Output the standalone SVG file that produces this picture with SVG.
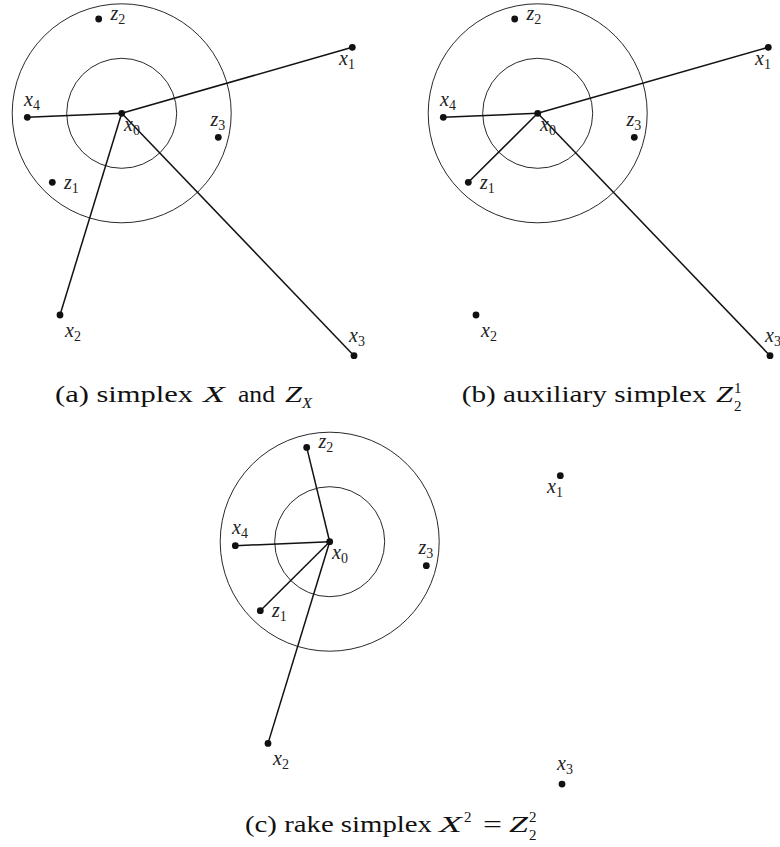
<svg xmlns="http://www.w3.org/2000/svg" width="780" height="847" viewBox="0 0 780 847">
<style>
.bg{fill:#fff}
.ring{fill:none;stroke:#111;stroke-width:0.9}
.edge{stroke:#111;stroke-width:1.5;fill:none}
.dot{fill:#111}
.lbl{font-family:"Liberation Serif",serif;font-style:italic;font-size:20px;fill:#222}
.sub{font-size:14px;font-style:normal}
.cap{font-family:"Liberation Serif",serif;font-size:24px;fill:#111}
.it{font-style:italic}
.sc{font-size:14px}
.ss{font-size:15px}
</style>
<rect class="bg" x="0" y="0" width="780" height="847"/>

<!-- Panel (a) -->
<g id="panel-a">
  <g id="a-rings">
    <circle class="ring" cx="121.7" cy="113.3" r="109.5"/>
    <circle class="ring" cx="121.7" cy="113.3" r="55"/>
  </g>
  <g id="a-connectors">
    <line class="edge" x1="121.7" y1="113.3" x2="352.3" y2="47.3"/>
    <line class="edge" x1="121.7" y1="113.3" x2="27.3" y2="117.3"/>
    <line class="edge" x1="121.7" y1="113.3" x2="60" y2="315"/>
    <line class="edge" x1="121.7" y1="113.3" x2="354" y2="355.7"/>
  </g>
  <g id="a-x0"><circle class="dot" cx="121.7" cy="113.3" r="3.4"/><text class="lbl" x="124" y="131">x<tspan class="sub" dy="4">0</tspan></text></g>
  <g id="a-x1"><circle class="dot" cx="352.3" cy="47.3" r="3.4"/><text class="lbl" x="339" y="65">x<tspan class="sub" dy="4">1</tspan></text></g>
  <g id="a-x2"><circle class="dot" cx="60" cy="315" r="3.4"/><text class="lbl" x="65" y="337">x<tspan class="sub" dy="4">2</tspan></text></g>
  <g id="a-x3"><circle class="dot" cx="354" cy="355.7" r="3.4"/><text class="lbl" x="349" y="342">x<tspan class="sub" dy="4">3</tspan></text></g>
  <g id="a-x4"><circle class="dot" cx="27.3" cy="117.3" r="3.4"/><text class="lbl" x="24" y="106">x<tspan class="sub" dy="4">4</tspan></text></g>
  <g id="a-z1"><circle class="dot" cx="52.3" cy="182.3" r="3.4"/><text class="lbl" x="64" y="189">z<tspan class="sub" dy="4">1</tspan></text></g>
  <g id="a-z2"><circle class="dot" cx="98.7" cy="19" r="3.4"/><text class="lbl" x="110.5" y="20">z<tspan class="sub" dy="4">2</tspan></text></g>
  <g id="a-z3"><circle class="dot" cx="218.3" cy="137.3" r="3.4"/><text class="lbl" x="210.5" y="126">z<tspan class="sub" dy="4">3</tspan></text></g>
</g>

<!-- Panel (b) -->
<g id="panel-b">
  <g id="b-rings">
    <circle class="ring" cx="537.7" cy="113.3" r="109.5"/>
    <circle class="ring" cx="537.7" cy="113.3" r="55"/>
  </g>
  <g id="b-connectors">
    <line class="edge" x1="537.7" y1="113.3" x2="768.3" y2="47.3"/>
    <line class="edge" x1="537.7" y1="113.3" x2="443.3" y2="117.3"/>
    <line class="edge" x1="537.7" y1="113.3" x2="770" y2="355.7"/>
    <line class="edge" x1="537.7" y1="113.3" x2="468.3" y2="182.3"/>
  </g>
  <g id="b-x0"><circle class="dot" cx="537.7" cy="113.3" r="3.4"/><text class="lbl" x="540" y="131">x<tspan class="sub" dy="4">0</tspan></text></g>
  <g id="b-x1"><circle class="dot" cx="768.3" cy="47.3" r="3.4"/><text class="lbl" x="755" y="65">x<tspan class="sub" dy="4">1</tspan></text></g>
  <g id="b-x2"><circle class="dot" cx="476" cy="315" r="3.4"/><text class="lbl" x="481" y="337">x<tspan class="sub" dy="4">2</tspan></text></g>
  <g id="b-x3"><circle class="dot" cx="770" cy="355.7" r="3.4"/><text class="lbl" x="765" y="342">x<tspan class="sub" dy="4">3</tspan></text></g>
  <g id="b-x4"><circle class="dot" cx="443.3" cy="117.3" r="3.4"/><text class="lbl" x="440" y="106">x<tspan class="sub" dy="4">4</tspan></text></g>
  <g id="b-z1"><circle class="dot" cx="468.3" cy="182.3" r="3.4"/><text class="lbl" x="480" y="189">z<tspan class="sub" dy="4">1</tspan></text></g>
  <g id="b-z2"><circle class="dot" cx="514.7" cy="19" r="3.4"/><text class="lbl" x="526.5" y="20">z<tspan class="sub" dy="4">2</tspan></text></g>
  <g id="b-z3"><circle class="dot" cx="634.3" cy="137.3" r="3.4"/><text class="lbl" x="626.5" y="126">z<tspan class="sub" dy="4">3</tspan></text></g>
</g>

<!-- Panel (c) -->
<g id="panel-c">
  <g id="c-rings">
    <circle class="ring" cx="329.7" cy="541.7" r="109.5"/>
    <circle class="ring" cx="329.7" cy="541.7" r="55"/>
  </g>
  <g id="c-connectors">
    <line class="edge" x1="329.7" y1="541.7" x2="306.7" y2="447.4"/>
    <line class="edge" x1="329.7" y1="541.7" x2="235.3" y2="545.7"/>
    <line class="edge" x1="329.7" y1="541.7" x2="260.3" y2="610.7"/>
    <line class="edge" x1="329.7" y1="541.7" x2="268" y2="743.4"/>
  </g>
  <g id="c-x0"><circle class="dot" cx="329.7" cy="541.7" r="3.4"/><text class="lbl" x="332" y="559.4">x<tspan class="sub" dy="4">0</tspan></text></g>
  <g id="c-x1"><circle class="dot" cx="560.3" cy="475.7" r="3.4"/><text class="lbl" x="547" y="493.4">x<tspan class="sub" dy="4">1</tspan></text></g>
  <g id="c-x2"><circle class="dot" cx="268" cy="743.4" r="3.4"/><text class="lbl" x="273" y="765.4">x<tspan class="sub" dy="4">2</tspan></text></g>
  <g id="c-x3"><circle class="dot" cx="562" cy="784.1" r="3.4"/><text class="lbl" x="557" y="770.4">x<tspan class="sub" dy="4">3</tspan></text></g>
  <g id="c-x4"><circle class="dot" cx="235.3" cy="545.7" r="3.4"/><text class="lbl" x="232" y="534.4">x<tspan class="sub" dy="4">4</tspan></text></g>
  <g id="c-z1"><circle class="dot" cx="260.3" cy="610.7" r="3.4"/><text class="lbl" x="272" y="617.4">z<tspan class="sub" dy="4">1</tspan></text></g>
  <g id="c-z2"><circle class="dot" cx="306.7" cy="447.4" r="3.4"/><text class="lbl" x="318.5" y="448.4">z<tspan class="sub" dy="4">2</tspan></text></g>
  <g id="c-z3"><circle class="dot" cx="426.3" cy="565.7" r="3.4"/><text class="lbl" x="418.5" y="554.4">z<tspan class="sub" dy="4">3</tspan></text></g>
</g>

<!-- Captions -->
<g id="captions">
  <text class="cap" x="55" y="402"><tspan textLength="138" lengthAdjust="spacingAndGlyphs">(a) simplex</tspan> <tspan class="it" x="203" textLength="22" lengthAdjust="spacingAndGlyphs">X</tspan> <tspan x="238" textLength="37" lengthAdjust="spacingAndGlyphs">and</tspan> <tspan class="it" x="285" textLength="17" lengthAdjust="spacingAndGlyphs">Z</tspan><tspan class="it sc" x="302" y="408" textLength="10" lengthAdjust="spacingAndGlyphs">X</tspan></text>
  <text class="cap" x="461.7" y="402"><tspan textLength="245" lengthAdjust="spacingAndGlyphs">(b) auxiliary simplex</tspan> <tspan class="it" x="716" textLength="17" lengthAdjust="spacingAndGlyphs">Z</tspan><tspan class="ss" x="734" y="410.5">2</tspan><tspan class="ss" x="734" y="393">1</tspan></text>
  <text class="cap" x="245" y="831.7"><tspan textLength="187" lengthAdjust="spacingAndGlyphs">(c) rake simplex</tspan> <tspan class="it" x="439" textLength="23" lengthAdjust="spacingAndGlyphs">X</tspan><tspan class="ss" x="464" y="822">2</tspan> <tspan x="483" y="831.7" textLength="19" lengthAdjust="spacingAndGlyphs">=</tspan> <tspan class="it" x="509" textLength="19" lengthAdjust="spacingAndGlyphs">Z</tspan><tspan class="ss" x="529" y="839.5">2</tspan><tspan class="ss" x="529" y="822">2</tspan></text>
</g>
</svg>
